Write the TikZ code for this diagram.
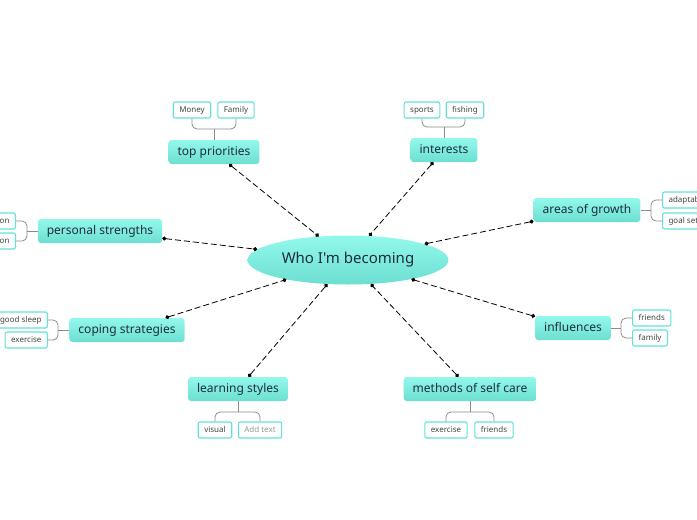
\documentclass[tikz,border=0pt]{standalone}
\usepackage{fontspec}
\setmainfont{Noto Sans}[Ligatures=TeXOff]
\usepackage{xcolor}
\usepackage{tikz}
\usetikzlibrary{arrows.meta, positioning, shapes.geometric}
\definecolor{mintTop}{HTML}{93F8EC}
\definecolor{mintBot}{HTML}{6CDFD1}
\definecolor{mintLine}{HTML}{63E3D5}
\definecolor{inkText}{HTML}{1E2D3D}
\definecolor{leafText}{HTML}{444444}
\definecolor{stemGray}{HTML}{8C8C8C}

\begin{document}
\begin{tikzpicture}[x=1pt, y=-1pt,
	hub/.style={ellipse, minimum width=201pt, minimum height=49pt, top color=mintTop, bottom color=mintBot, text=inkText, font=\fontsize{15}{17}\selectfont},
	topic/.style={rectangle, rounded corners=3pt, minimum height=24pt, inner xsep=9pt, inner ysep=0pt, text height=9pt, text depth=2pt, top color=mintTop, bottom color=mintBot, text=inkText, font=\fontsize{12}{14}\selectfont},
	leaf/.style={rectangle, rounded corners=2pt, draw=mintLine, line width=1.1pt, fill=white, minimum height=16pt, inner xsep=6pt, inner ysep=0pt, text height=6pt, text depth=1pt, text=leafText, font=\fontsize{8}{9}\selectfont},
	stem/.style={draw=stemGray, line width=0.8pt, rounded corners=5pt},
	link/.style={draw=black, line width=0.8pt, dash pattern=on 6pt off 3pt, {Circle[length=4pt]}-{Circle[length=4pt]}}]
	\useasboundingbox (0, 0) rectangle (697, 520);
	\clip (0, 0) rectangle (697, 520);
	% Central topic and main branches:
	\node[hub] (Hub) at (348, 260){Who I'm becoming};
	\node[topic] (TP) at (214, 152){top priorities};
	\node[topic] (IT) at (444, 150){interests};
	\node[topic] (AG) at (587, 210){areas of growth};
	\node[topic] (PS) at (100, 231){personal strengths};
	\node[topic] (CS) at (127, 330){coping strategies};
	\node[topic] (IN) at (573, 328){influences};
	\node[topic] (LS) at (238, 389){learning styles};
	\node[topic] (MS) at (470, 389){methods of self care};
	% Dashed links to the centre:
	\draw[link] (TP) -- (Hub);
	\draw[link] (IT) -- (Hub);
	\draw[link] (AG) -- (Hub);
	\draw[link] (PS) -- (Hub);
	\draw[link] (CS) -- (Hub);
	\draw[link] (IN) -- (Hub);
	\draw[link] (LS) -- (Hub);
	\draw[link] (MS) -- (Hub);
	% Sub-topics:
	\node[leaf] (TP1) at (192, 110){Money};
	\node[leaf] (TP2) at (236, 110){Family};
	\node[leaf] (IT1) at (422, 110){sports};
	\node[leaf] (IT2) at (465, 110){fishing};
	\node[leaf, anchor=west] (AG1) at (662, 200){adaptability};
	\node[leaf, anchor=west] (AG2) at (662, 221){goal setting};
	\node[leaf, anchor=east] (PS1) at (16, 221){motivation};
	\node[leaf, anchor=east] (PS2) at (16, 241){determination};
	\node[leaf, anchor=east] (CS1) at (48, 320){good sleep};
	\node[leaf, anchor=east] (CS2) at (48, 340){exercise};
	\node[leaf, anchor=west] (IN1) at (632, 318){friends};
	\node[leaf, anchor=west] (IN2) at (632, 338){family};
	\node[leaf] (LS1) at (215, 430){visual};
	\node[leaf, text=gray!80] (LS2) at (260, 430){Add text};
	\node[leaf] (MS1) at (446, 430){exercise};
	\node[leaf] (MS2) at (494, 430){friends};
	% Brackets:
	\coordinate (TPj) at (214, 129);
	\coordinate (ITj) at (444, 127);
	\coordinate (AGj) at (651, 210);
	\coordinate (PSj) at (27, 231);
	\coordinate (CSj) at (58, 330);
	\coordinate (INj) at (621, 328);
	\coordinate (LSj) at (238, 412);
	\coordinate (MSj) at (470, 412);
	\draw[stem] (TP1.south) |- (TPj) -| (TP2.south);
	\draw[stem] (TPj) -- (TP.north);
	\draw[stem] (IT1.south) |- (ITj) -| (IT2.south);
	\draw[stem] (ITj) -- (IT.north);
	\draw[stem] (AG1.west) -| (AGj) |- (AG2.west);
	\draw[stem] (AGj) -- (AG.east);
	\draw[stem] (PS1.east) -| (PSj) |- (PS2.east);
	\draw[stem] (PSj) -- (PS.west);
	\draw[stem] (CS1.east) -| (CSj) |- (CS2.east);
	\draw[stem] (CSj) -- (CS.west);
	\draw[stem] (IN1.west) -| (INj) |- (IN2.west);
	\draw[stem] (INj) -- (IN.east);
	\draw[stem] (LS1.north) |- (LSj) -| (LS2.north);
	\draw[stem] (LSj) -- (LS.south);
	\draw[stem] (MS1.north) |- (MSj) -| (MS2.north);
	\draw[stem] (MSj) -- (MS.south);
\end{tikzpicture}
\end{document}
